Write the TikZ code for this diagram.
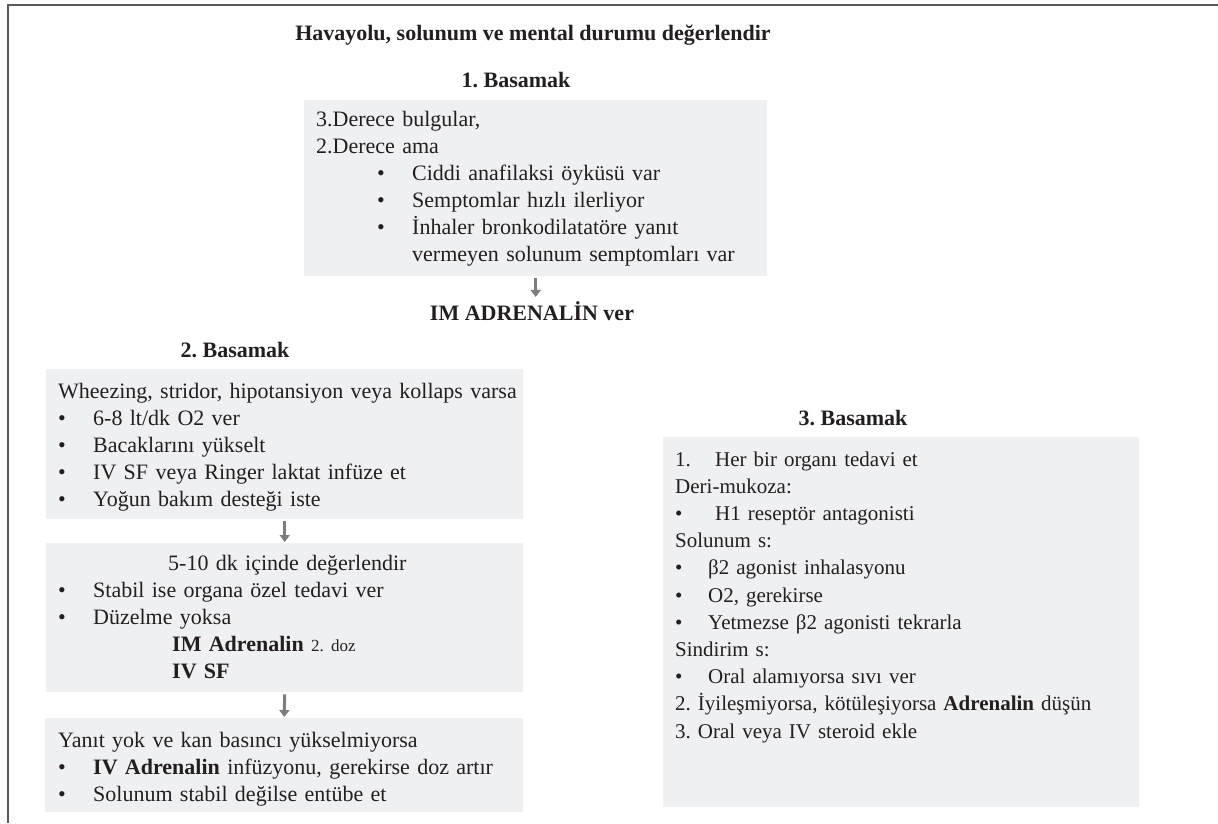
\documentclass[tikz,border=0pt]{standalone}
\usepackage{fontspec}
\setmainfont{Liberation Serif}
\usepackage{xcolor}
\usepackage{tikz}
\definecolor{boxgrey}{RGB}{239, 240, 242}
\definecolor{inkblack}{RGB}{35, 31, 32}
\definecolor{arrowgrey}{RGB}{125, 125, 125}
\definecolor{framegrey}{RGB}{90, 90, 90}
\usetikzlibrary{arrows.meta, positioning}
\frenchspacing

\newcommand{\bul}[1]{\makebox[#1][l]{\textbullet}}

\begin{document}
\begin{tikzpicture}[
    x=1pt, y=-1pt,
    greybox/.style={rectangle, fill=boxgrey, inner sep=0pt, anchor=north west},
    boxtext/.style={anchor=base west, inner sep=0pt, text width=620pt, align=left, text=inkblack, font=\fontsize{22}{27}\selectfont},
    heading/.style={anchor=base, inner sep=0pt, text=inkblack, font=\fontsize{22}{27}\selectfont\bfseries},
    arrow/.style={-{Triangle[width=10pt, length=7pt]}, line width=3pt, arrowgrey, shorten <=2pt, shorten >=1pt}
]
    \useasboundingbox (0,0) rectangle (1218,823);

    % Frame
    \draw[framegrey, line width=2pt] (1218,4.5) -- (7.5,4.5) -- (7.5,823);

    % Step 1
    \node[heading] (title) at (533,40) {Havayolu, solunum ve mental durumu değerlendir};
    \node[heading] (step1) at (516,87) {1. Basamak};
    \node[greybox, minimum width=463pt, minimum height=176pt] (b1) at (304,100) {};
    \node[boxtext] (b1txt) at (316,126) {3.Derece bulgular,\\
        2.Derece ama\\
        \hspace*{61pt}\bul{35pt}Ciddi anafilaksi öyküsü var\\
        \hspace*{61pt}\bul{35pt}Semptomlar hızlı ilerliyor\\
        \hspace*{61pt}\bul{35pt}İnhaler bronkodilatatöre yanıt\\
        \hspace*{96pt}vermeyen solunum semptomları var};
    \node[heading] (imadr) at (532,320) {IM ADRENALİN ver};
    \draw[arrow, shorten >=4pt] (b1.south) -- (b1.south |- imadr.north);

    % Step 2
    \node[heading] (step2) at (235,357) {2. Basamak};
    \node[greybox, minimum width=477pt, minimum height=150pt] (b2) at (46,369) {};
    \node[boxtext] (b2txt) at (58,398) {Wheezing, stridor, hipotansiyon veya kollaps varsa\\
        \bul{35pt}6-8 lt/dk O2 ver\\
        \bul{35pt}Bacaklarını yükselt\\
        \bul{35pt}IV SF veya Ringer laktat infüze et\\
        \bul{35pt}Yoğun bakım desteği iste};

    \node[greybox, minimum width=477pt, minimum height=149pt] (b3) at (46,543) {};
    \node[boxtext] (b3txt) at (58,570) {\hspace*{110pt}5-10 dk içinde değerlendir\\
        \bul{35pt}Stabil ise organa özel tedavi ver\\
        \bul{35pt}Düzelme yoksa\\
        \hspace*{114pt}\textbf{IM Adrenalin} {\fontsize{17}{27}\selectfont 2. doz}\\
        \hspace*{114pt}\textbf{IV SF}};

    \node[greybox, minimum width=478pt, minimum height=94pt] (b4) at (45,718) {};
    \node[boxtext] (b4txt) at (58,747) {Yanıt yok ve kan basıncı yükselmiyorsa\\
        \bul{35pt}\textbf{IV Adrenalin} infüzyonu, gerekirse doz artır\\
        \bul{35pt}Solunum stabil değilse entübe et};

    \draw[arrow] (b2.south) -- (b3.north);
    \draw[arrow] (b3.south) -- (b4.north);

    % Step 3
    \node[heading] (step3) at (853,425) {3. Basamak};
    \node[greybox, minimum width=476pt, minimum height=370pt] (b5) at (663,437) {};
    \node[boxtext, font=\fontsize{21}{27.2}\selectfont] (b5txt) at (675,466) {\makebox[40pt][l]{1.}Her bir organı tedavi et\\
        Deri-mukoza:\\
        \bul{40pt}H1 reseptör antagonisti\\
        Solunum s:\\
        \bul{33pt}β2 agonist inhalasyonu\\
        \bul{33pt}O2, gerekirse\\
        \bul{33pt}Yetmezse β2 agonisti tekrarla\\
        Sindirim s:\\
        \bul{33pt}Oral alamıyorsa sıvı ver\\
        2. İyileşmiyorsa, kötüleşiyorsa \textbf{Adrenalin} düşün\\
        3. Oral veya IV steroid ekle};

\end{tikzpicture}
\end{document}
